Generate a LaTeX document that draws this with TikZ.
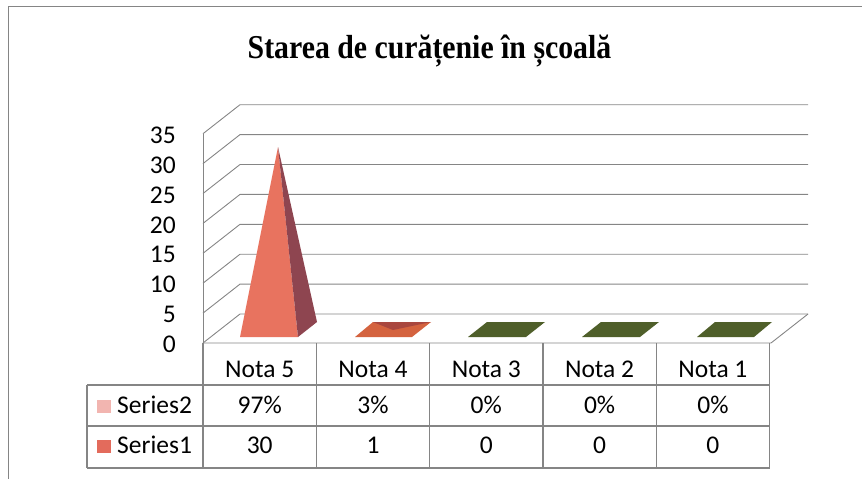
\documentclass[tikz,border=0pt]{standalone}
\usepackage{fontspec}
\usepackage{graphicx}
\setmainfont{Carlito}
\newfontfamily\titlefont{Liberation Serif}

\definecolor{gridgray}{HTML}{858585}
\definecolor{pyrfront}{HTML}{E8735F}
\definecolor{pyrside}{HTML}{8E4550}
\definecolor{flatred}{HTML}{D4633F}
\definecolor{flatdark}{HTML}{A9473F}
\definecolor{flatgreen}{HTML}{4F5F2A}
\definecolor{serieslight}{HTML}{F2B5B0}
\definecolor{seriesdark}{HTML}{E36B5C}

\tikzset{
  gridline/.style={gridgray, line width=0.9pt},
  tableline/.style={gridgray, line width=1.2pt},
  chartfont/.style={font=\fontsize{25.5}{27}\selectfont, text=black},
}

\begin{document}
\begin{tikzpicture}[x=1pt,y=-1pt]
    \tikzstyle{every node}+=[inner sep=0pt]
    \useasboundingbox (0,0) rectangle (862,479);
    % frame
    \draw [gridgray, line width=0.8pt] (8,479) -- (8,6) -- (862,6);
    \node [anchor=base] (title) at (429.5,58) {\scalebox{1}[1.12]{\titlefont\bfseries\fontsize{29.8}{31}\selectfont Starea de curățenie în școală}};
    % walls and floor
    \foreach \k in {0,...,7}
        \draw [gridline] (203,343-29.9*\k) -- (240,314-29.9*\k) -- (808,314-29.9*\k);
    \draw [gridline] (203,134) -- (203,343);
    \draw [gridline] (203,343) -- (771,343) -- (808,314);
    % value axis
    \foreach \v [count=\k from 0] in {0,5,10,15,20,25,30,35}
        \node [chartfont, anchor=base east] (tick\v) at (176,352.6-29.9*\k) {\v};
    % pyramid Nota 5
    \fill [pyrfront] (240,337) -- (298,337) -- (278,147) -- cycle;
    \fill [pyrside] (298,337) -- (317,322) -- (278,147) -- cycle;
    % flat bars
    \fill [flatred] (355,337) -- (412,337) -- (431,322) -- (373,322) -- cycle;
    \fill [flatdark] (373,322) -- (431,322) -- (393,330) -- cycle;
    \fill [flatgreen] (468,337) -- (526,337) -- (545,322) -- (487,322) -- cycle;
    \fill [flatgreen] (582,337) -- (640,337) -- (659,322) -- (601,322) -- cycle;
    \fill [flatgreen] (697,337) -- (754,337) -- (772,322) -- (715,322) -- cycle;
    % data table
    \foreach \x in {203,316.3,429.6,542.9,656.2,769.5}
        \draw [tableline] (\x,343) -- (\x,468);
    \draw [tableline] (87,385) -- (769.5,385);
    \draw [tableline] (87,426) -- (769.5,426);
    \draw [tableline] (87,468) -- (769.5,468);
    \draw [tableline] (87,385) -- (87,468);
    \foreach \n [count=\i from 0] in {5,4,3,2,1}
        \node [chartfont, anchor=base] (head\n) at (259.7+113.3*\i,377) {Nota \n};
    \foreach \p [count=\i from 0] in {97\%,3\%,0\%,0\%,0\%}
        \node [chartfont, anchor=base] (pct\i) at (259.7+113.3*\i,413) {\p};
    \foreach \c [count=\i from 0] in {30,1,0,0,0}
        \node [chartfont, anchor=base] (cnt\i) at (259.7+113.3*\i,453) {\c};
    % legend keys
    \fill [serieslight] (97,400) rectangle (111,413);
    \fill [seriesdark] (97,440) rectangle (111,453);
    \node [chartfont, anchor=base west] (series2) at (117,413) {Series2};
    \node [chartfont, anchor=base west] (series1) at (117,453) {Series1};
\end{tikzpicture}
\end{document}
